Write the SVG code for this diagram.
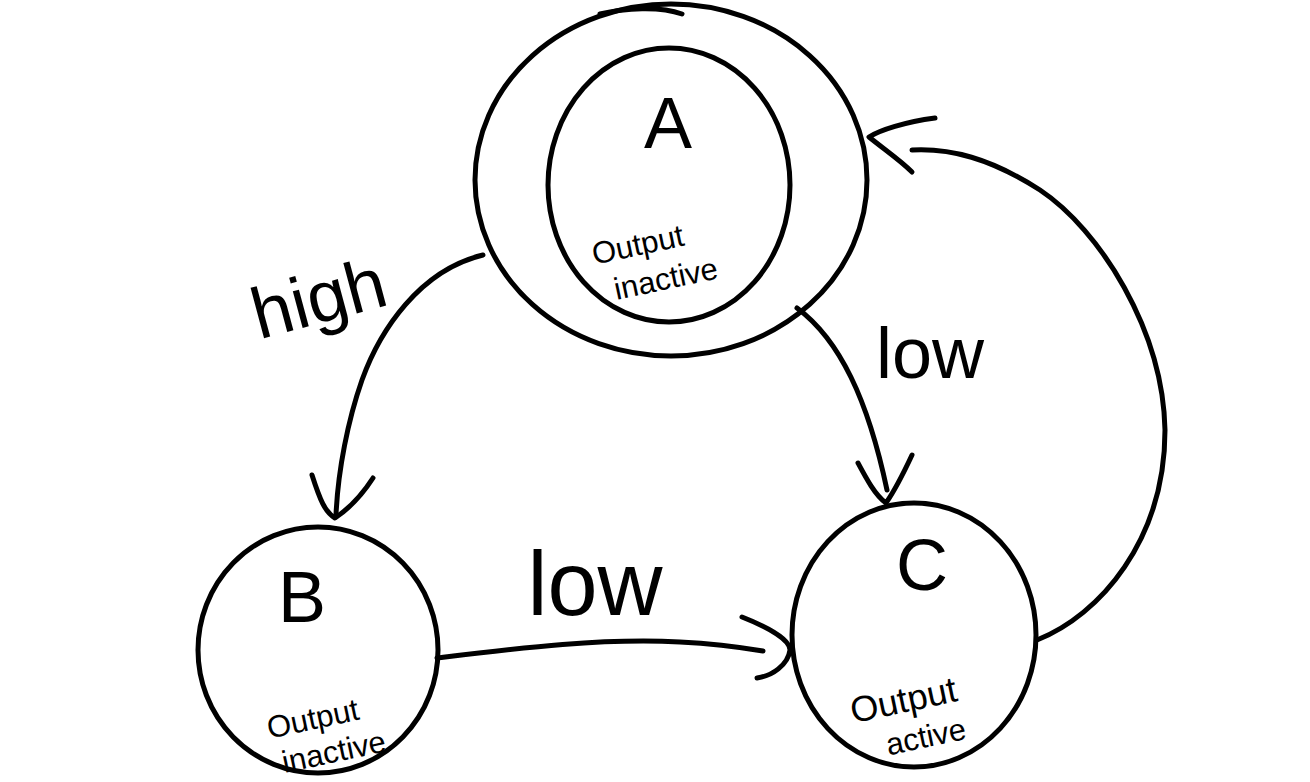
<svg xmlns="http://www.w3.org/2000/svg" width="1310" height="782" viewBox="0 0 1310 782">
<style>
.ln{fill:none;stroke:#000;stroke-width:5;stroke-linecap:round;stroke-linejoin:round}
.t{font-family:"Liberation Sans","DejaVu Sans",sans-serif;fill:#000;text-anchor:middle}
.big{font-size:72px}
.lbl{font-size:72px}
.sm{font-size:31px}
</style>
<rect width="1310" height="782" fill="#fff"/>
<g id="connectors">
  <g id="e-A-B">
    <path class="ln" d="M483 255 C420 270 380 330 362 380 C348 420 338 470 336 515"/>
    <path class="ln" d="M312 475 C320 500 325 512 335 518 C350 508 362 495 373 478"/>
  </g>
  <g id="e-A-C">
    <path class="ln" d="M797 308 C840 340 868 400 887 490"/>
    <path class="ln" d="M858 463 C866 478 875 495 886 503 C895 490 905 470 912 455"/>
  </g>
  <g id="e-B-C">
    <path class="ln" d="M437 658 C520 648 600 638 680 642 C720 644 745 648 763 651"/>
    <path class="ln" d="M742 617 C770 628 790 640 790 650 C788 665 772 676 757 678"/>
  </g>
  <g id="e-C-A">
    <path class="ln" d="M1037 640 C1100 615 1165 540 1165 430 C1163 330 1100 230 1040 190 C990 158 950 148 912 150"/>
    <path class="ln" d="M935 118 C905 122 880 130 869 137 C885 150 900 160 912 172"/>
  </g>
</g>
<g id="node-A">
  <ellipse class="ln" cx="671" cy="180" rx="196" ry="176"/>
  <path class="ln" d="M600 14 C625 8 660 6 682 14"/>
  <ellipse class="ln" cx="669" cy="185" rx="121" ry="137"/>
  <text class="t big" x="668" y="148">A</text>
  <text class="t sm" transform="translate(640 255) rotate(-12)">Output</text>
  <text class="t sm" transform="translate(668 289) rotate(-12)">inactive</text>
</g>
<g id="node-B">
  <ellipse class="ln" cx="318" cy="650" rx="120" ry="123"/>
  <text class="t big" x="302" y="622">B</text>
  <text class="t sm" transform="translate(315 729) rotate(-12)">Output</text>
  <text class="t sm" transform="translate(336 762) rotate(-12)">inactive</text>
</g>
<g id="node-C">
  <ellipse class="ln" cx="914" cy="635" rx="122" ry="132"/>
  <text class="t big" x="922" y="590">C</text>
  <text class="t sm" style="font-size:36px" transform="translate(906 712) rotate(-12)">Output</text>
  <text class="t sm" transform="translate(928 747) rotate(-12)">active</text>
</g>
<g id="labels">
  <text class="t lbl" transform="translate(325 322) rotate(-15)">high</text>
  <text class="t lbl" x="930" y="378">low</text>
  <text class="t lbl" style="font-size:90px" x="595" y="615">low</text>
</g>
</svg>
